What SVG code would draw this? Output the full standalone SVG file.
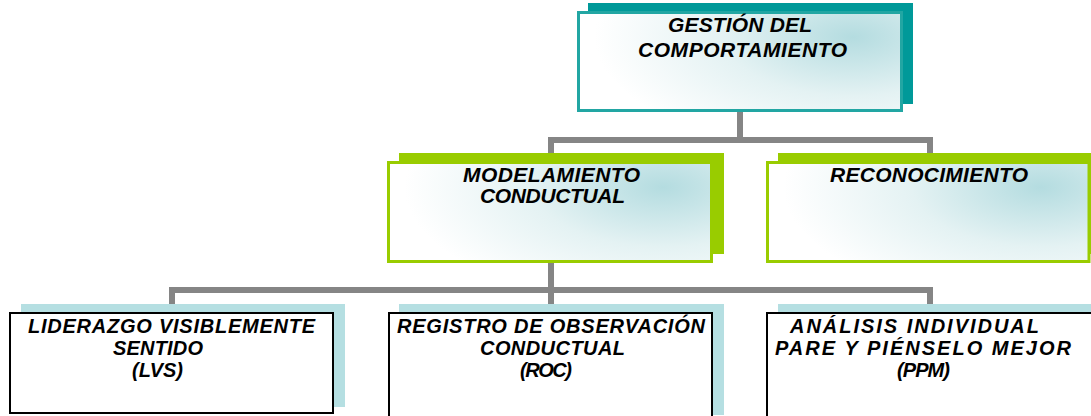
<svg xmlns="http://www.w3.org/2000/svg" width="1091" height="416" viewBox="0 0 1091 416">
<defs>
<radialGradient id="g" cx="0.85" cy="0.25" r="0.8" fx="0.85" fy="0.25" gradientTransform="translate(0.85 0.25) scale(1 1.5) translate(-0.85 -0.25)">
<stop offset="0" stop-color="#b4dce0"/>
<stop offset="0.5" stop-color="#e4f2f3"/>
<stop offset="1" stop-color="#ffffff"/>
</radialGradient>
<style>
.t{font-family:"Liberation Sans",Arial,sans-serif;font-weight:bold;font-style:italic;font-size:21px;fill:#000;text-anchor:middle}
.s{font-size:20px}
.c{fill:none;stroke:#858585;stroke-width:6}
.sh1{fill:#009999}
.sh2{fill:#99cc00}
.sh3{fill:#b5dfe2}
.f1{fill:url(#g);stroke:#22a6a3;stroke-width:3}
.f2{fill:url(#g);stroke:#99cc00;stroke-width:3}
.f3{fill:#ffffff;stroke:#000;stroke-width:2}
</style>
</defs>
<g id="connectors">
<path class="c" d="M740 110 V140 M548 140 H933 M551 140 V156 M930 140 V156"/>
<path class="c" d="M551 262 V290 M169 290 H933 M172 290 V306 M551 290 V306 M930 290 V306"/>
</g>
<g id="n-gestion">
<rect class="sh1" x="588" y="3" width="325" height="101"/>
<rect class="f1" x="578.5" y="12.5" width="323" height="98"/>
<text class="t" x="740" y="32" textLength="144" lengthAdjust="spacing">GESTIÓN DEL</text>
<text class="t" x="742.5" y="57" textLength="209" lengthAdjust="spacing">COMPORTAMIENTO</text>
</g>
<g id="n-modelamiento">
<rect class="sh2" x="399" y="153" width="325" height="101"/>
<rect class="f2" x="388.5" y="162.5" width="323" height="99"/>
<text class="t" x="551.5" y="182" textLength="177" lengthAdjust="spacing">MODELAMIENTO</text>
<text class="t" x="552.5" y="203" textLength="145" lengthAdjust="spacing">CONDUCTUAL</text>
</g>
<g id="n-reconocimiento">
<rect class="sh2" x="778" y="153" width="320" height="101"/>
<rect class="f2" x="767.5" y="162.5" width="321.5" height="99"/>
<text class="t" x="929" y="182" textLength="198" lengthAdjust="spacing">RECONOCIMIENTO</text>
</g>
<g id="n-lvs">
<rect class="sh3" x="21" y="304" width="324" height="103"/>
<rect class="f3" x="10" y="313" width="323" height="100"/>
<text class="t s" x="171.5" y="333" textLength="287" lengthAdjust="spacing">LIDERAZGO VISIBLEMENTE</text>
<text class="t s" x="158" y="355" textLength="90" lengthAdjust="spacing">SENTIDO</text>
<text class="t s" x="157.5" y="377" textLength="51" lengthAdjust="spacing">(LVS)</text>
</g>
<g id="n-roc">
<rect class="sh3" x="399" y="304" width="325" height="111"/>
<rect class="f3" x="389" y="313" width="323" height="110"/>
<text class="t s" x="551" y="333" textLength="308" lengthAdjust="spacing">REGISTRO DE OBSERVACIÓN</text>
<text class="t s" x="552.5" y="355" textLength="145" lengthAdjust="spacing">CONDUCTUAL</text>
<text class="t s" x="546" y="377" textLength="52" lengthAdjust="spacing">(ROC)</text>
</g>
<g id="n-ppm">
<rect class="sh3" x="778" y="304" width="320" height="111"/>
<rect class="f3" x="767" y="313" width="330" height="110"/>
<text class="t s" x="914.5" y="333" textLength="249" lengthAdjust="spacing">ANÁLISIS INDIVIDUAL</text>
<text class="t s" x="923" y="355" textLength="296" lengthAdjust="spacing">PARE Y PIÉNSELO MEJOR</text>
<text class="t s" x="923.5" y="377" textLength="53" lengthAdjust="spacing">(PPM)</text>
</g>
</svg>
